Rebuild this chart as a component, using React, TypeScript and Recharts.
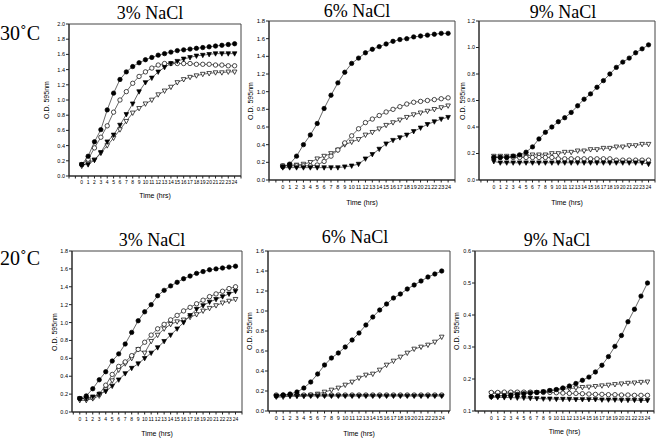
import React from "react";
import { LineChart, Line, XAxis, YAxis, ReferenceArea } from "recharts";

const hours = [0, 1, 2, 3, 4, 5, 6, 7, 8, 9, 10, 11, 12, 13, 14, 15, 16, 17, 18, 19, 20, 21, 22, 23, 24];

// 30°C, 3% NaCl
const t30s3Closed = [0.15, 0.26, 0.45, 0.61, 0.87, 1.09, 1.27, 1.37, 1.44, 1.49, 1.53, 1.56, 1.59, 1.61, 1.63, 1.65, 1.66, 1.67, 1.68, 1.69, 1.7, 1.71, 1.72, 1.73, 1.74];
const t30s3Open = [0.15, 0.22, 0.37, 0.51, 0.66, 0.84, 1.0, 1.11, 1.22, 1.31, 1.37, 1.42, 1.46, 1.48, 1.48, 1.48, 1.48, 1.48, 1.47, 1.47, 1.47, 1.46, 1.46, 1.45, 1.45];
const t30s3TriClosed = [0.15, 0.15, 0.21, 0.31, 0.45, 0.54, 0.67, 0.81, 0.95, 1.11, 1.23, 1.29, 1.37, 1.43, 1.48, 1.51, 1.54, 1.56, 1.58, 1.59, 1.6, 1.61, 1.61, 1.61, 1.61];
const t30s3TriOpen = [0.13, 0.18, 0.21, 0.3, 0.4, 0.5, 0.61, 0.72, 0.83, 0.89, 0.95, 1.0, 1.07, 1.12, 1.17, 1.23, 1.27, 1.3, 1.32, 1.34, 1.35, 1.36, 1.36, 1.37, 1.37];

// 30°C, 6% NaCl
const t30s6Closed = [0.15, 0.18, 0.27, 0.4, 0.51, 0.64, 0.81, 0.96, 1.1, 1.22, 1.32, 1.38, 1.44, 1.48, 1.51, 1.54, 1.57, 1.59, 1.6, 1.62, 1.63, 1.64, 1.65, 1.66, 1.66];
const t30s6Open = [0.16, 0.16, 0.16, 0.16, 0.16, 0.17, 0.21, 0.27, 0.34, 0.42, 0.5, 0.58, 0.65, 0.69, 0.73, 0.77, 0.8, 0.83, 0.86, 0.88, 0.89, 0.9, 0.91, 0.92, 0.93];
const t30s6TriClosed = [0.14, 0.14, 0.14, 0.14, 0.14, 0.14, 0.14, 0.14, 0.14, 0.15, 0.16, 0.18, 0.24, 0.29, 0.35, 0.41, 0.45, 0.48, 0.51, 0.55, 0.59, 0.63, 0.66, 0.69, 0.71];
const t30s6TriOpen = [0.16, 0.17, 0.17, 0.18, 0.2, 0.24, 0.27, 0.3, 0.34, 0.4, 0.43, 0.46, 0.51, 0.54, 0.58, 0.62, 0.65, 0.68, 0.71, 0.74, 0.76, 0.78, 0.8, 0.82, 0.84];

// 30°C, 9% NaCl
const t30s9Closed = [0.17, 0.17, 0.17, 0.18, 0.19, 0.21, 0.25, 0.31, 0.36, 0.4, 0.44, 0.47, 0.51, 0.56, 0.61, 0.65, 0.7, 0.75, 0.8, 0.85, 0.89, 0.92, 0.96, 0.99, 1.02];
const t30s9Open = [0.17, 0.17, 0.17, 0.17, 0.17, 0.17, 0.17, 0.17, 0.17, 0.17, 0.16, 0.16, 0.16, 0.16, 0.16, 0.16, 0.16, 0.16, 0.16, 0.15, 0.15, 0.15, 0.15, 0.15, 0.15];
const t30s9TriClosed = [0.14, 0.13, 0.13, 0.13, 0.13, 0.13, 0.13, 0.13, 0.13, 0.13, 0.13, 0.13, 0.13, 0.13, 0.13, 0.13, 0.13, 0.13, 0.13, 0.13, 0.13, 0.13, 0.13, 0.13, 0.12];
const t30s9TriOpen = [0.18, 0.18, 0.18, 0.18, 0.18, 0.18, 0.19, 0.19, 0.19, 0.2, 0.2, 0.21, 0.21, 0.22, 0.22, 0.23, 0.23, 0.24, 0.24, 0.25, 0.25, 0.26, 0.26, 0.27, 0.27];

// 20°C, 3% NaCl
const t20s3Closed = [0.15, 0.18, 0.26, 0.36, 0.45, 0.57, 0.65, 0.76, 0.89, 1.02, 1.12, 1.2, 1.3, 1.36, 1.41, 1.45, 1.49, 1.52, 1.55, 1.57, 1.59, 1.6, 1.61, 1.62, 1.63];
const t20s3Open = [0.15, 0.15, 0.16, 0.2, 0.3, 0.42, 0.51, 0.56, 0.63, 0.7, 0.78, 0.86, 0.93, 0.98, 1.03, 1.08, 1.13, 1.17, 1.21, 1.25, 1.29, 1.32, 1.35, 1.38, 1.4];
const t20s3TriClosed = [0.15, 0.15, 0.17, 0.2, 0.23, 0.29, 0.36, 0.43, 0.49, 0.54, 0.6, 0.66, 0.72, 0.79, 0.86, 0.93, 1.0, 1.08, 1.15, 1.19, 1.23, 1.26, 1.29, 1.32, 1.35];
const t20s3TriOpen = [0.13, 0.13, 0.15, 0.18, 0.25, 0.35, 0.47, 0.54, 0.6, 0.7, 0.66, 0.79, 0.86, 0.93, 0.98, 1.01, 1.03, 1.06, 1.09, 1.13, 1.16, 1.19, 1.22, 1.24, 1.26];

// 20°C, 6% NaCl
const t20s6Closed = [0.15, 0.16, 0.17, 0.19, 0.23, 0.29, 0.37, 0.46, 0.53, 0.58, 0.64, 0.71, 0.78, 0.86, 0.94, 1.01, 1.07, 1.13, 1.17, 1.22, 1.26, 1.3, 1.34, 1.37, 1.4];
const t20s6Open = [0.16, 0.16, 0.16, 0.16, 0.16, 0.16, 0.16, 0.16, 0.16, 0.16, 0.16, 0.16, 0.16, 0.16, 0.16, 0.16, 0.16, 0.16, 0.16, 0.16, 0.16, 0.16, 0.16, 0.16, 0.16];
const t20s6TriClosed = [0.15, 0.15, 0.15, 0.15, 0.15, 0.15, 0.15, 0.15, 0.15, 0.15, 0.15, 0.15, 0.15, 0.15, 0.15, 0.15, 0.15, 0.15, 0.15, 0.15, 0.15, 0.15, 0.15, 0.15, 0.15];
const t20s6TriOpen = [0.14, 0.14, 0.15, 0.15, 0.15, 0.16, 0.17, 0.19, 0.21, 0.23, 0.26, 0.29, 0.33, 0.36, 0.37, 0.41, 0.46, 0.5, 0.54, 0.58, 0.62, 0.64, 0.66, 0.69, 0.74];

// 20°C, 9% NaCl
const t20s9Closed = [0.145, 0.147, 0.148, 0.15, 0.152, 0.154, 0.156, 0.158, 0.16, 0.164, 0.167, 0.172, 0.178, 0.186, 0.196, 0.206, 0.222, 0.243, 0.27, 0.302, 0.336, 0.379, 0.418, 0.459, 0.5];
const t20s9Open = [0.158, 0.158, 0.159, 0.159, 0.159, 0.159, 0.159, 0.158, 0.158, 0.158, 0.157, 0.156, 0.155, 0.155, 0.154, 0.153, 0.152, 0.152, 0.151, 0.151, 0.15, 0.15, 0.149, 0.149, 0.149];
const t20s9TriClosed = [0.143, 0.143, 0.142, 0.142, 0.141, 0.141, 0.14, 0.139, 0.138, 0.138, 0.137, 0.137, 0.137, 0.136, 0.136, 0.136, 0.136, 0.135, 0.135, 0.135, 0.134, 0.134, 0.134, 0.133, 0.133];
const t20s9TriOpen = [0.155, 0.155, 0.155, 0.156, 0.156, 0.156, 0.157, 0.158, 0.16, 0.163, 0.165, 0.168, 0.17, 0.172, 0.174, 0.175, 0.177, 0.179, 0.181, 0.183, 0.185, 0.187, 0.188, 0.19, 0.191];

const yTicks20 = [0, 0.2, 0.4, 0.6, 0.8, 1.0, 1.2, 1.4, 1.6, 1.8, 2.0];
const yTicks18 = [0, 0.2, 0.4, 0.6, 0.8, 1.0, 1.2, 1.4, 1.6, 1.8];
const yTicks16 = [0, 0.2, 0.4, 0.6, 0.8, 1.0, 1.2, 1.4, 1.6];
const yTicks12 = [0, 0.2, 0.4, 0.6, 0.8, 1.0, 1.2];
const yTicks06 = [0.1, 0.2, 0.3, 0.4, 0.5, 0.6];

type Shape = "closed" | "open" | "triClosed" | "triOpen";

function Marker({ cx, cy, shape }: { cx: number; cy: number; shape: Shape }) {
  if (cx == null || cy == null) return null;
  const s = 2.3;
  if (shape === "closed" || shape === "open") {
    return <circle cx={cx} cy={cy} r={2.2} fill={shape === "closed" ? "#000" : "#fff"} stroke="#000" strokeWidth={0.7} />;
  }
  const pts = `${cx - s},${cy - s * 0.8} ${cx + s},${cy - s * 0.8} ${cx},${cy + s * 1.1}`;
  return <polygon points={pts} fill={shape === "triClosed" ? "#000" : "#fff"} stroke="#000" strokeWidth={0.7} />;
}

const dotFor = (shape: Shape) => (p: any) => <Marker key={p.index} cx={p.cx} cy={p.cy} shape={shape} />;

interface PanelProps {
  frame: { left: number; top: number; right: number; bottom: number };
  xDomain: [number, number];
  yTicks: number[];
  series: { closed: number[]; open: number[]; triClosed: number[]; triOpen: number[] };
  tickSize: number;
  yLabelX: number;
  xLabelGap: number;
  tickGap: number;
}

const sans = "Liberation Sans, Arial, sans-serif";

function Panel({ frame, xDomain, yTicks, series, tickSize, yLabelX, xLabelGap, tickGap }: PanelProps) {
  const fw = frame.right - frame.left;
  const fh = frame.bottom - frame.top;
  const data = hours.map((t, i) => ({
    t,
    closed: series.closed[i],
    open: series.open[i],
    triClosed: series.triClosed[i],
    triOpen: series.triOpen[i],
  }));
  const xTicks: number[] = [];
  for (let v = Math.ceil(xDomain[0]); v <= Math.floor(xDomain[1]); v++) xTicks.push(v);
  const yMin = yTicks[0];
  const yMax = yTicks[yTicks.length - 1];
  const order: Shape[] = ["triOpen", "open", "triClosed", "closed"];
  return (
    <>
      <div style={{ position: "absolute", left: frame.left - 40, top: frame.top - 6 }}>
        <LineChart width={fw + 46} height={fh + 6 + 22} data={data} margin={{ top: 6, right: 6, bottom: 0, left: 0 }}>
          <XAxis
            type="number"
            dataKey="t"
            domain={xDomain}
            ticks={xTicks}
            interval={0}
            allowDataOverflow
            height={22}
            tickSize={2.5}
            tickMargin={tickGap}
            stroke="#222"
            tick={{ fontSize: tickSize, fill: "#000", fontFamily: sans }}
            tickFormatter={(v: number) => (v >= 0 && v <= 24 ? String(v) : "")}
          />
          <YAxis
            type="number"
            domain={[yMin, yMax]}
            ticks={yTicks}
            interval={0}
            width={40}
            tickSize={3}
            tickMargin={1}
            stroke="#222"
            tick={{ fontSize: tickSize + 0.5, fill: "#000", fontFamily: sans }}
            tickFormatter={(v: number) => v.toFixed(1)}
          />
          <ReferenceArea x1={xDomain[0]} x2={xDomain[1]} y1={yMin} y2={yMax} fill="none" stroke="#444" strokeWidth={1} />
          {order.map((k) => (
            <Line
              key={k}
              type="linear"
              dataKey={k}
              stroke="#444"
              strokeWidth={0.8}
              dot={dotFor(k)}
              isAnimationActive={false}
            />
          ))}
        </LineChart>
      </div>
      <div
        style={{
          position: "absolute",
          left: yLabelX - 50,
          top: frame.top + fh / 2 - 5,
          width: 100,
          height: 10,
          textAlign: "center",
          fontSize: 7,
          lineHeight: "10px",
          fontFamily: sans,
          transform: "rotate(-90deg)",
          color: "#000",
        }}
      >
        O.D. 595nm
      </div>
      <div
        style={{
          position: "absolute",
          left: frame.left,
          width: fw,
          top: frame.bottom + xLabelGap,
          textAlign: "center",
          fontSize: 7,
          lineHeight: "9px",
          fontFamily: sans,
          color: "#000",
        }}
      >
        Time (hrs)
      </div>
    </>
  );
}

const serif = "Liberation Serif, Times New Roman, serif";

function Title({ x, y, text, size = 18 }: { x: number; y: number; text: string; size?: number }) {
  return (
    <div
      style={{
        position: "absolute",
        left: x - 60,
        width: 120,
        top: y,
        textAlign: "center",
        fontSize: size,
        lineHeight: `${size}px`,
        fontFamily: serif,
        color: "#000",
        whiteSpace: "nowrap",
      }}
    >
      {text}
    </div>
  );
}

export default function App() {
  return (
    <div style={{ position: "absolute", left: 0, top: 0, width: 656, height: 438, background: "#fff", overflow: "hidden" }}>
      <div style={{ position: "absolute", left: 0, top: 22, fontSize: 20, fontFamily: serif }}>30˚C</div>
      <div style={{ position: "absolute", left: 0, top: 247, fontSize: 20, fontFamily: serif }}>20˚C</div>

      <Title x={150} y={4} text="3% NaCl" />
      <Title x={357} y={2} text="6% NaCl" />
      <Title x={563} y={3} text="9% NaCl" />
      <Title x={152} y={231} text="3% NaCl" />
      <Title x={355} y={228} text="6% NaCl" />
      <Title x={557} y={231} text="9% NaCl" />

      <Panel
        frame={{ left: 69, top: 24, right: 241, bottom: 176 }}
        xDomain={[-2, 25]}
        yTicks={yTicks20}
        series={{ closed: t30s3Closed, open: t30s3Open, triClosed: t30s3TriClosed, triOpen: t30s3TriOpen }}
        tickSize={5}
        yLabelX={47}
        xLabelGap={15}
        tickGap={2}
      />
      <Panel
        frame={{ left: 269, top: 21, right: 455, bottom: 180 }}
        xDomain={[-2, 25]}
        yTicks={yTicks18}
        series={{ closed: t30s6Closed, open: t30s6Open, triClosed: t30s6TriClosed, triOpen: t30s6TriOpen }}
        tickSize={5.5}
        yLabelX={251}
        xLabelGap={18}
        tickGap={3}
      />
      <Panel
        frame={{ left: 479, top: 21, right: 655, bottom: 180 }}
        xDomain={[-2.3, 25]}
        yTicks={yTicks12}
        series={{ closed: t30s9Closed, open: t30s9Open, triClosed: t30s9TriClosed, triOpen: t30s9TriOpen }}
        tickSize={5}
        yLabelX={463}
        xLabelGap={18}
        tickGap={3}
      />
      <Panel
        frame={{ left: 72, top: 251, right: 242, bottom: 412 }}
        xDomain={[-1.2, 25]}
        yTicks={yTicks18}
        series={{ closed: t20s3Closed, open: t20s3Open, triClosed: t20s3TriClosed, triOpen: t20s3TriOpen }}
        tickSize={5}
        yLabelX={55}
        xLabelGap={17}
        tickGap={3}
      />
      <Panel
        frame={{ left: 268, top: 251, right: 450, bottom: 411 }}
        xDomain={[-1.2, 25.2]}
        yTicks={yTicks16}
        series={{ closed: t20s6Closed, open: t20s6Open, triClosed: t20s6TriClosed, triOpen: t20s6TriOpen }}
        tickSize={5.5}
        yLabelX={250}
        xLabelGap={18}
        tickGap={3}
      />
      <Panel
        frame={{ left: 475, top: 251, right: 654, bottom: 411 }}
        xDomain={[-2.5, 25]}
        yTicks={yTicks06}
        series={{ closed: t20s9Closed, open: t20s9Open, triClosed: t20s9TriClosed, triOpen: t20s9TriOpen }}
        tickSize={5}
        yLabelX={457}
        xLabelGap={16}
        tickGap={3}
      />
    </div>
  );
}
